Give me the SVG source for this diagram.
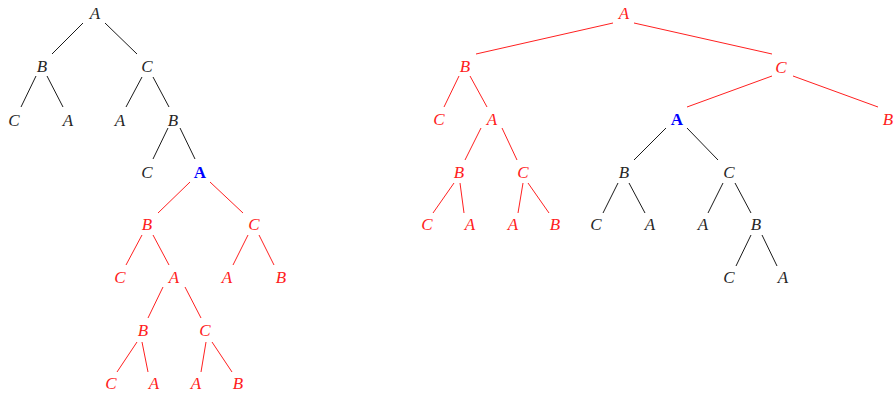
<svg xmlns="http://www.w3.org/2000/svg" width="894" height="397" viewBox="0 0 894 397">
<style>
text{font-family:"Liberation Serif","Times New Roman",serif;font-size:17px;font-style:italic;text-anchor:middle}
.k{fill:#262626}
.r{fill:#ff2020}
.b{fill:#0000ff;font-style:normal;font-weight:bold}
line{stroke-width:1}
.lk line{stroke:#1a1a1a}
.lr line{stroke:#ff2020}
</style>
<rect width="894" height="397" fill="#fff"/>
<g id="connectors">
<g class="lk">
<line x1="83" y1="23" x2="52" y2="54"/>
<line x1="105" y1="23" x2="137" y2="54"/>
<line x1="36" y1="76" x2="21" y2="107"/>
<line x1="47" y1="76" x2="63" y2="107"/>
<line x1="142" y1="77" x2="126" y2="107"/>
<line x1="153" y1="77" x2="169" y2="107"/>
<line x1="168" y1="128" x2="153" y2="159"/>
<line x1="180" y1="128" x2="195" y2="159"/>
<line x1="666" y1="128" x2="634" y2="160"/>
<line x1="687" y1="128" x2="718" y2="160"/>
<line x1="618" y1="183" x2="603" y2="213"/>
<line x1="629" y1="183" x2="645" y2="213"/>
<line x1="723" y1="183" x2="708" y2="213"/>
<line x1="735" y1="183" x2="751" y2="213"/>
<line x1="751" y1="235" x2="736" y2="266"/>
<line x1="762" y1="235" x2="777" y2="266"/>
</g>
<g class="lr">
<line x1="190" y1="182" x2="158" y2="213"/>
<line x1="210" y1="182" x2="243" y2="213"/>
<line x1="142" y1="235" x2="126" y2="265"/>
<line x1="153" y1="235" x2="169" y2="265"/>
<line x1="248" y1="235" x2="233" y2="265"/>
<line x1="259" y1="235" x2="274" y2="265"/>
<line x1="163" y1="287" x2="148" y2="318"/>
<line x1="185" y1="287" x2="201" y2="318"/>
<line x1="137" y1="342" x2="117" y2="372"/>
<line x1="142" y1="342" x2="148" y2="372"/>
<line x1="206" y1="342" x2="201" y2="372"/>
<line x1="212" y1="342" x2="232" y2="372"/>
<line x1="613" y1="23" x2="476" y2="54"/>
<line x1="634" y1="23" x2="772" y2="54"/>
<line x1="459" y1="76" x2="444" y2="107"/>
<line x1="470" y1="76" x2="487" y2="107"/>
<line x1="772" y1="76" x2="687" y2="107"/>
<line x1="793" y1="76" x2="878" y2="107"/>
<line x1="481" y1="128" x2="465" y2="160"/>
<line x1="502" y1="128" x2="517" y2="160"/>
<line x1="454" y1="183" x2="433" y2="213"/>
<line x1="460" y1="183" x2="464" y2="213"/>
<line x1="523" y1="183" x2="518" y2="213"/>
<line x1="528" y1="183" x2="549" y2="213"/>
</g>
</g>
<g id="L0"><text class="k" x="95" y="19">A</text></g>
<g id="L1"><text class="k" x="42" y="72">B</text></g>
<g id="L2"><text class="k" x="147" y="72">C</text></g>
<g id="L3"><text class="k" x="14" y="126">C</text></g>
<g id="L4"><text class="k" x="68" y="126">A</text></g>
<g id="L5"><text class="k" x="120" y="126">A</text></g>
<g id="L6"><text class="k" x="173" y="126">B</text></g>
<g id="L7"><text class="k" x="147" y="178">C</text></g>
<g id="L8"><text class="b" x="200" y="178">A</text></g>
<g id="L9"><text class="r" x="147" y="230">B</text></g>
<g id="L10"><text class="r" x="254" y="230">C</text></g>
<g id="L11"><text class="r" x="120" y="283">C</text></g>
<g id="L12"><text class="r" x="174" y="283">A</text></g>
<g id="L13"><text class="r" x="227" y="283">A</text></g>
<g id="L14"><text class="r" x="281" y="283">B</text></g>
<g id="L15"><text class="r" x="143" y="336">B</text></g>
<g id="L16"><text class="r" x="205" y="336">C</text></g>
<g id="L17"><text class="r" x="111" y="389">C</text></g>
<g id="L18"><text class="r" x="154" y="389">A</text></g>
<g id="L19"><text class="r" x="196" y="389">A</text></g>
<g id="L20"><text class="r" x="238" y="389">B</text></g>
<g id="R0"><text class="r" x="624" y="19">A</text></g>
<g id="R1"><text class="r" x="465" y="72">B</text></g>
<g id="R2"><text class="r" x="781" y="73">C</text></g>
<g id="R3"><text class="r" x="439" y="125">C</text></g>
<g id="R4"><text class="r" x="492" y="125">A</text></g>
<g id="R5"><text class="b" x="677" y="125">A</text></g>
<g id="R6"><text class="r" x="888" y="125">B</text></g>
<g id="R7"><text class="r" x="459" y="178">B</text></g>
<g id="R8"><text class="r" x="523" y="178">C</text></g>
<g id="R9"><text class="k" x="624" y="178">B</text></g>
<g id="R10"><text class="k" x="729" y="178">C</text></g>
<g id="R11"><text class="r" x="427" y="230">C</text></g>
<g id="R12"><text class="r" x="470" y="230">A</text></g>
<g id="R13"><text class="r" x="513" y="230">A</text></g>
<g id="R14"><text class="r" x="555" y="230">B</text></g>
<g id="R15"><text class="k" x="596" y="230">C</text></g>
<g id="R16"><text class="k" x="650" y="230">A</text></g>
<g id="R17"><text class="k" x="703" y="230">A</text></g>
<g id="R18"><text class="k" x="756" y="230">B</text></g>
<g id="R19"><text class="k" x="729" y="283">C</text></g>
<g id="R20"><text class="k" x="783" y="283">A</text></g>
</svg>
